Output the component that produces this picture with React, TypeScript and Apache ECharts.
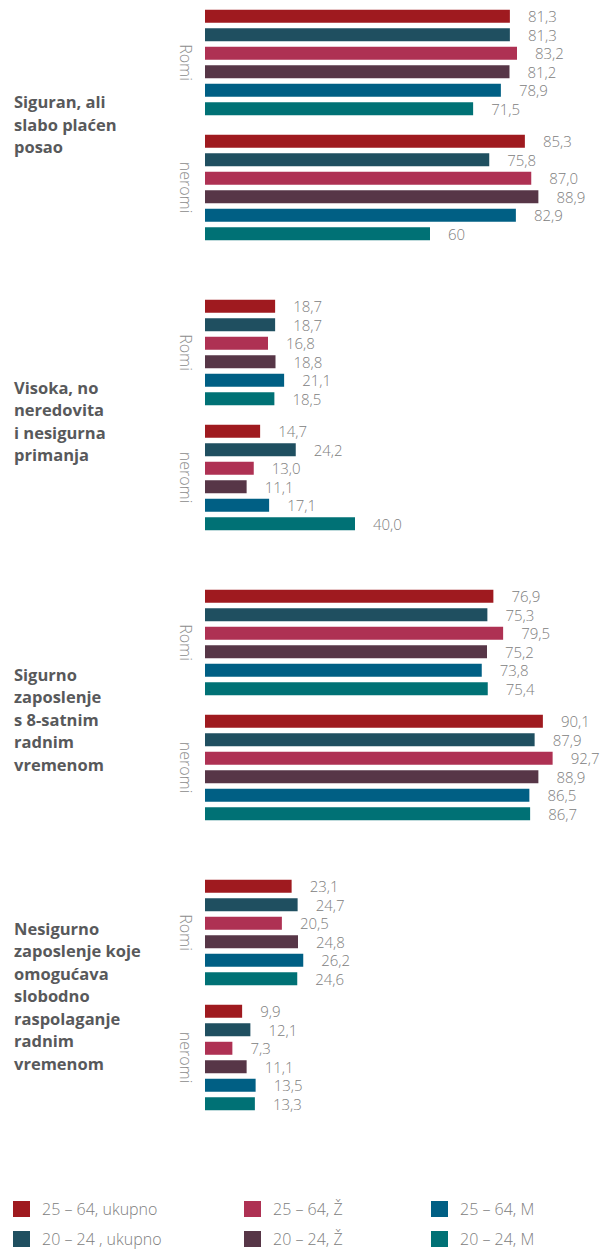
import React, { useEffect, useRef } from "react";
import * as echarts from "echarts";

// ---- data ----
const subgroups = ["Romi", "neromi"];
const seriesNames = [
  "25 – 64, ukupno",
  "20 – 24 , ukupno",
  "25 – 64, Ž",
  "20 – 24, Ž",
  "25 – 64, M",
  "20 – 24, M",
];
const seriesColors = ["#9f1a1f", "#1f4f60", "#ae3153", "#573647", "#005f84", "#007175"];

const groupTitles = [
  "Siguran, ali\nslabo plaćen\nposao",
  "Visoka, no\nneredovita\ni nesigurna\nprimanja",
  "Sigurno\nzaposlenje\ns 8-satnim\nradnim\nvremenom",
  "Nesigurno\nzaposlenje koje\nomogućava\nslobodno\nraspolaganje\nradnim\nvremenom",
];

// values as printed (order follows seriesNames)
const siguranRomi = ["81,3", "81,3", "83,2", "81,2", "78,9", "71,5"];
const siguranNeromi = ["85,3", "75,8", "87,0", "88,9", "82,9", "60"];
const visokaRomi = ["18,7", "18,7", "16,8", "18,8", "21,1", "18,5"];
const visokaNeromi = ["14,7", "24,2", "13,0", "11,1", "17,1", "40,0"];
const sigurnoRomi = ["76,9", "75,3", "79,5", "75,2", "73,8", "75,4"];
const sigurnoNeromi = ["90,1", "87,9", "92,7", "88,9", "86,5", "86,7"];
const nesigurnoRomi = ["23,1", "24,7", "20,5", "24,8", "26,2", "24,6"];
const nesigurnoNeromi = ["9,9", "12,1", "7,3", "11,1", "13,5", "13,3"];

const groups = [
  [siguranRomi, siguranNeromi],
  [visokaRomi, visokaNeromi],
  [sigurnoRomi, sigurnoNeromi],
  [nesigurnoRomi, nesigurnoNeromi],
];

// ---- layout ----
const groupCenters = [125, 415, 705, 995];
const titleCenters = [124, 421, 719, 995.5];
const GROUP_H = 250;

const toNum = (s: string) => parseFloat(s.replace(",", "."));

export default function App() {
  const ref = useRef<HTMLDivElement>(null);

  useEffect(() => {
    if (!ref.current) return;
    const chart = echarts.init(ref.current, null, { renderer: "svg" });

    const grids = groupCenters.map((c) => ({
      left: 205,
      width: 375,
      top: c - GROUP_H / 2,
      height: GROUP_H,
    }));
    const xAxes = groupCenters.map((_, i) => ({
      type: "value",
      gridIndex: i,
      min: 0,
      max: 100,
      show: false,
    }));
    const yAxes = groupCenters.map((_, i) => ({
      type: "category",
      gridIndex: i,
      data: subgroups,
      inverse: true,
      axisLine: { show: false },
      axisTick: { show: false },
      splitLine: { show: false },
      axisLabel: {
        rotate: -90,
        margin: 11,
        color: "#8c8c8c",
        fontSize: 16,
        fontFamily: "Open Sans",
        fontWeight: 300,
      },
    }));

    const series: any[] = [];
    groups.forEach((g, gi) => {
      seriesNames.forEach((name, si) => {
        series.push({
          type: "bar",
          name,
          xAxisIndex: gi,
          yAxisIndex: gi,
          barWidth: 13,
          barGap: "42%",
          itemStyle: { color: seriesColors[si] },
          label: {
            show: true,
            position: "right",
            distance: 18,
            color: "#808080",
            fontSize: 15,
            fontFamily: "Open Sans",
            fontWeight: 300,
          },
          data: g.map((vals) => ({
            value: toNum(vals[si]),
            label: { formatter: vals[si] },
          })),
        });
      });
    });

    const legendCols = [
      { left: 13, names: [seriesNames[0], seriesNames[1]] },
      { left: 244, names: [seriesNames[2], seriesNames[3]] },
      { left: 431, names: [seriesNames[4], seriesNames[5]] },
    ];
    const legends = legendCols.map((c) => ({
      data: c.names,
      left: c.left,
      top: 1201,
      orient: "vertical",
      padding: 0,
      itemWidth: 17,
      itemHeight: 16,
      itemGap: 14,
      icon: "rect",
      selectedMode: false,
      textStyle: {
        color: "#808080",
        fontSize: 16,
        lineHeight: 16,
        fontFamily: "Open Sans",
        fontWeight: 300,
        padding: [0, 0, 0, 7],
      },
    }));

    const graphics = groupTitles.map((t, i) => ({
      type: "text",
      x: 14,
      y: titleCenters[i],
      style: {
        text: t,
        fontSize: 16.5,
        fontWeight: "bold",
        fontFamily: "Open Sans",
        fill: "#58595b",
        lineHeight: 22.5,
        verticalAlign: "middle",
        align: "left",
      },
    }));

    chart.setOption({
      animation: false,
      backgroundColor: "#ffffff",
      grid: grids,
      xAxis: xAxes,
      yAxis: yAxes,
      series,
      legend: legends,
      graphic: graphics,
    });

    return () => chart.dispose();
  }, []);

  return (
    <div
      ref={ref}
      style={{ position: "absolute", left: 0, top: 0, width: 602, height: 1251 }}
    />
  );
}
